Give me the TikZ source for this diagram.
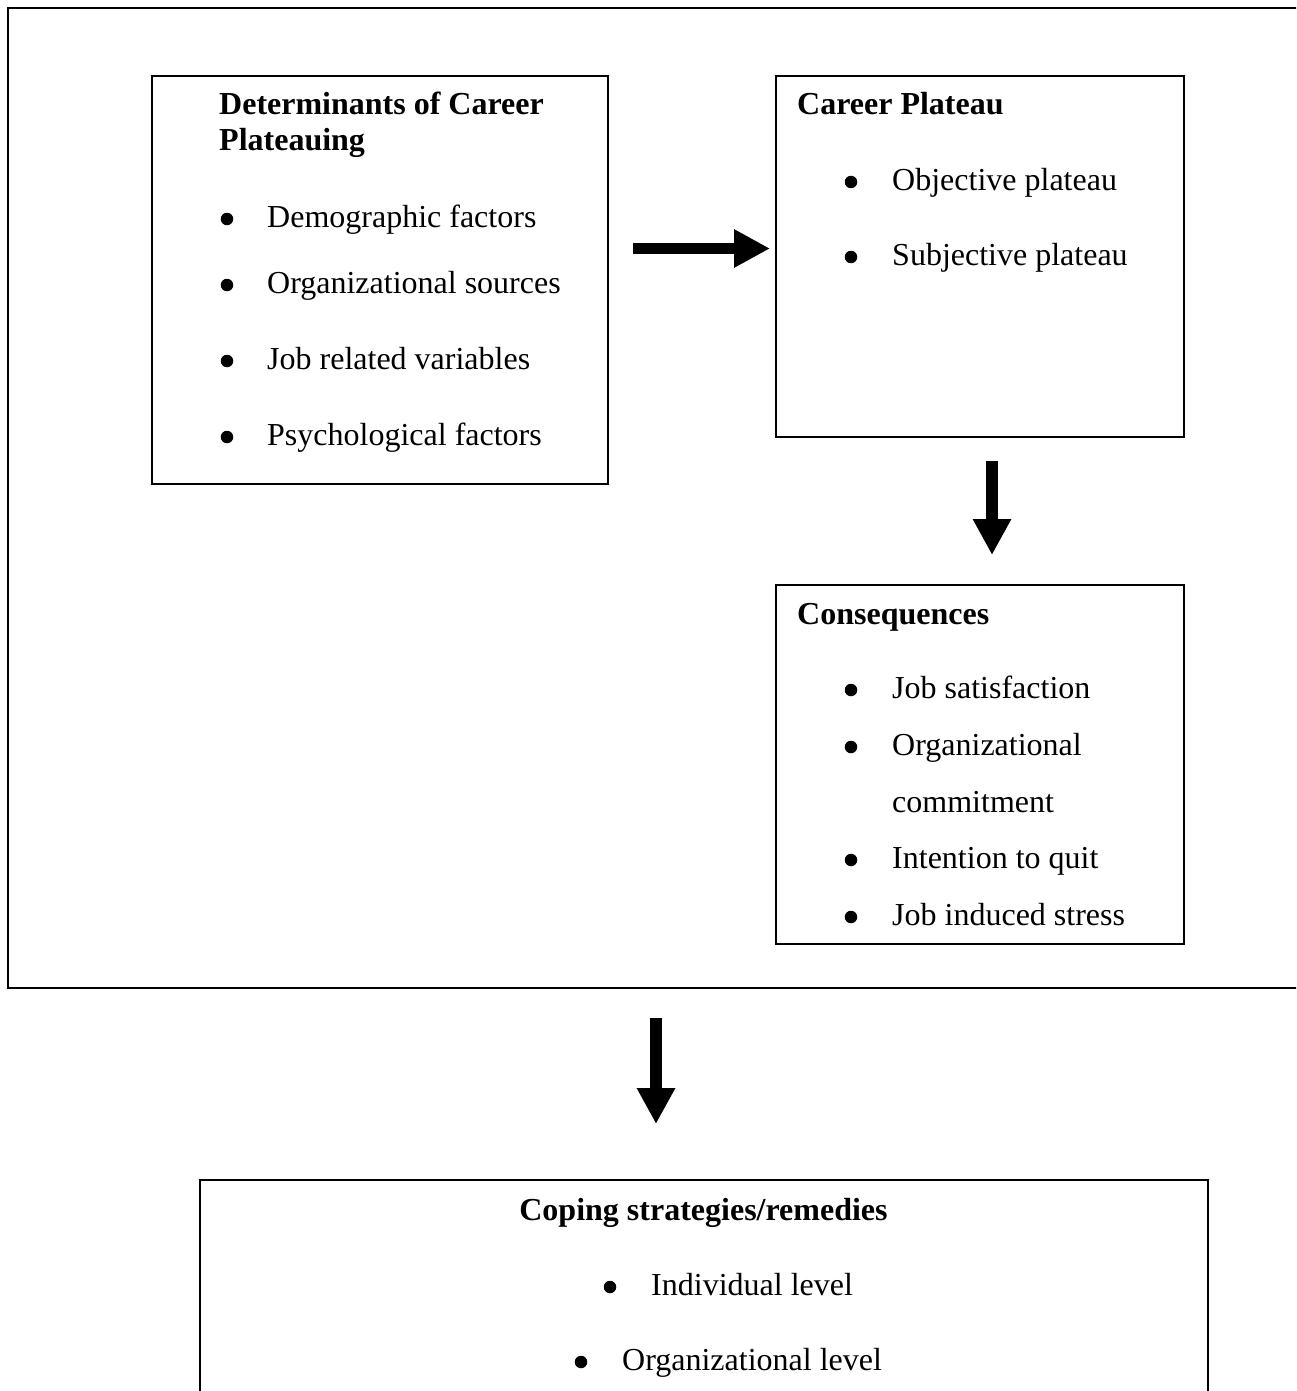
\documentclass[tikz,border=0pt]{standalone}
\usepackage{fontspec}
\setmainfont{Liberation Serif}
\usetikzlibrary{arrows.meta,calc}
\begin{document}
\begin{tikzpicture}[x=1pt,y=-1pt,
  box/.style={draw=black,line width=2pt,anchor=north west,inner sep=0pt},
  txt/.style={anchor=base west,inner sep=0pt,font=\fontsize{32}{38}\selectfont},
  head/.style={anchor=base west,inner sep=0pt,font=\fontsize{32}{38}\selectfont\bfseries},
  dot/.style={circle,fill=black,inner sep=0pt,minimum size=12.5pt},
  blockarrow/.style={line width=11.5pt,-{Triangle[width=36pt,length=36pt]}}]
\useasboundingbox (0,0) rectangle (1296,1391);
\fill[white] (0,0) rectangle (1296,1391);
\clip (0,0) rectangle (1296,1391);

% outer frame around the first three stages
\node[box,minimum width=1292pt,minimum height=980pt] (frame) at (7,7) {};

% boxes
\node[box,minimum width=456pt,minimum height=408pt] (det) at (151,75) {};
\node[box,minimum width=408pt,minimum height=361pt] (plat) at (775,75) {};
\node[box,minimum width=408pt,minimum height=359pt] (cons) at (775,584) {};
\node[box,minimum width=1008pt,minimum height=225pt] (cope) at (199,1179) {};

% determinants
\node[head] (detH1) at (219,115) {Determinants of Career};
\node[head] (detH2) at (219,151) {Plateauing};
\node[dot] (detB1) at (227,219) {};
\node[txt] (detI1) at (267,227) {Demographic factors};
\node[dot] (detB2) at (227,285) {};
\node[txt] (detI2) at (267,293) {Organizational sources};
\node[dot] (detB3) at (227,361) {};
\node[txt] (detI3) at (267,369) {Job related variables};
\node[dot] (detB4) at (227,437) {};
\node[txt] (detI4) at (267,445) {Psychological factors};

% career plateau
\node[head] (platH) at (797,115) {Career Plateau};
\node[dot] (platB1) at (851,182) {};
\node[txt] (platI1) at (892,190) {Objective plateau};
\node[dot] (platB2) at (851,257) {};
\node[txt] (platI2) at (892,265) {Subjective plateau};

% consequences
\node[head] (consH) at (797,624) {Consequences};
\node[dot] (consB1) at (851,690) {};
\node[txt] (consI1) at (892,698) {Job satisfaction};
\node[dot] (consB2) at (851,747) {};
\node[txt] (consI2) at (892,755) {Organizational};
\node[txt] (consI2b) at (892,812) {commitment};
\node[dot] (consB3) at (851,860) {};
\node[txt] (consI3) at (892,868) {Intention to quit};
\node[dot] (consB4) at (851,917) {};
\node[txt] (consI4) at (892,925) {Job induced stress};

% coping strategies
\node[head,anchor=base] (copeH) at (703.5,1220) {Coping strategies/remedies};
\node[dot] (copeB1) at (610,1287) {};
\node[txt] (copeI1) at (651,1295) {Individual level};
\node[dot] (copeB2) at (581,1362) {};
\node[txt] (copeI2) at (622,1370) {Organizational level};

% block arrows
\draw[blockarrow] ($(det.east)+(24,-31.5)$) -- ($(plat.west)+(-5,-8)$);
\draw[blockarrow] ($(plat.south)+(12,23)$) -- ($(cons.north)+(12,-29)$);
\draw[blockarrow] ($(frame.south)+(2,29)$) -- ($(cope.north)+(-48,-55)$);
\end{tikzpicture}
\end{document}
